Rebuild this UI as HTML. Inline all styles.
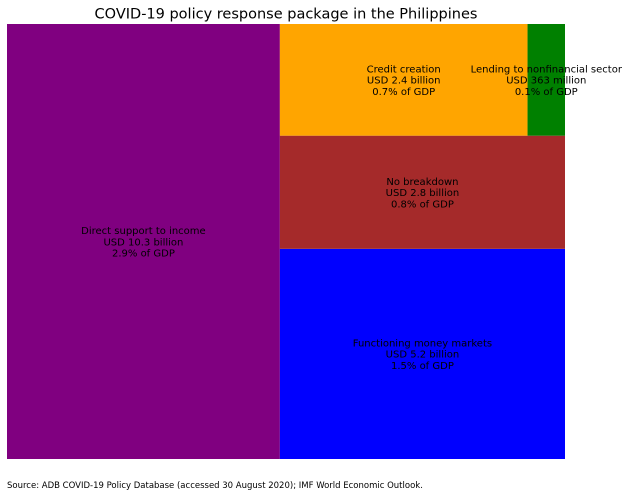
<!DOCTYPE html>
<html><head><meta charset="utf-8"><style>
body{margin:0;background:#fff;width:629px;height:497px;overflow:hidden;font-family:"DejaVu Sans","Liberation Sans",sans-serif}
</style></head><body>
<svg id="chart" width="629" height="497" xmlns="http://www.w3.org/2000/svg">
<text x="286" y="18.5" text-anchor="middle" font-size="14.5" fill="#000">COVID-19 policy response package in the Philippines</text>
<g id="tiles"></g>
<g id="labels"></g>
<text x="7" y="488" font-size="8.5" fill="#000">Source: ADB COVID-19 Policy Database (accessed 30 August 2020); IMF World Economic Outlook.</text>
</svg>
<script>
const categories=["Direct support to income","Functioning money markets","No breakdown","Credit creation","Lending to nonfinancial sector"];
const values=[10.3,5.2,2.8,2.4,0.363];
const amountLabels=["USD 10.3 billion","USD 5.2 billion","USD 2.8 billion","USD 2.4 billion","USD 363 million"];
const gdpShares=[2.9,1.5,0.8,0.7,0.1];
const colors=["purple","blue","brown","orange","green"];

const PX=7,PY=24,PW=558,PH=435;
const DW=100,DH=100;
function layoutrow(s,x,y,dx,dy){const c=s.reduce((a,b)=>a+b,0),w=c/dy;const r=[];for(const v of s){r.push({x,y,dx:w,dy:v/w});y+=v/w;}return r;}
function layoutcol(s,x,y,dx,dy){const c=s.reduce((a,b)=>a+b,0),h=c/dx;const r=[];for(const v of s){r.push({x,y,dx:v/h,dy:h});x+=v/h;}return r;}
function layout(s,x,y,dx,dy){return dx>=dy?layoutrow(s,x,y,dx,dy):layoutcol(s,x,y,dx,dy);}
function leftover(s,x,y,dx,dy){const c=s.reduce((a,b)=>a+b,0);if(dx>=dy){const w=c/dy;return [x+w,y,dx-w,dy];}const h=c/dx;return [x,y+h,dx,dy-h];}
function worst(s,x,y,dx,dy){return Math.max(...layout(s,x,y,dx,dy).map(r=>Math.max(r.dx/r.dy,r.dy/r.dx)));}
function squarify(s,x,y,dx,dy){
  if(s.length===0)return [];
  if(s.length===1)return layout(s,x,y,dx,dy);
  let i=1;while(i<s.length&&worst(s.slice(0,i),x,y,dx,dy)>=worst(s.slice(0,i+1),x,y,dx,dy))i++;
  const cur=s.slice(0,i),rem=s.slice(i);const lo=leftover(cur,x,y,dx,dy);
  return layout(cur,x,y,dx,dy).concat(squarify(rem,...lo));
}
const total=values.reduce((a,b)=>a+b,0);
const norm=values.map(v=>v*DW*DH/total);
const rects=squarify(norm,0,0,DW,DH);
const sX=PW/DW,sY=PH/DH;
const NS="http://www.w3.org/2000/svg";
const gT=document.getElementById('tiles'),gL=document.getElementById('labels');
rects.forEach((r,i)=>{
  const w=r.dx*sX,h=r.dy*sY;
  const sx=PX+r.x*sX, sy=PY+PH-(r.y*sY+h);
  const rect=document.createElementNS(NS,'rect');
  
  
  rect.setAttribute('x',sx);rect.setAttribute('y',sy);rect.setAttribute('width',w);rect.setAttribute('height',h);
  rect.setAttribute('fill',colors[i]);
  gT.appendChild(rect);
  const cx=sx+w/2, cy=sy+h/2;
  const t=document.createElementNS(NS,'text');
  
  
  t.setAttribute('text-anchor','middle');t.setAttribute('font-size','10');t.setAttribute('fill','#000');
  const lines=[categories[i],amountLabels[i],gdpShares[i].toFixed(1)+'% of GDP'];
  lines.forEach((ln,k)=>{const ts=document.createElementNS(NS,'tspan');ts.setAttribute('x',cx);ts.setAttribute('y',cy-11+k*11.3+3.5);ts.textContent=ln;t.appendChild(ts);});
  gL.appendChild(t);
});
</script>
</body></html>
